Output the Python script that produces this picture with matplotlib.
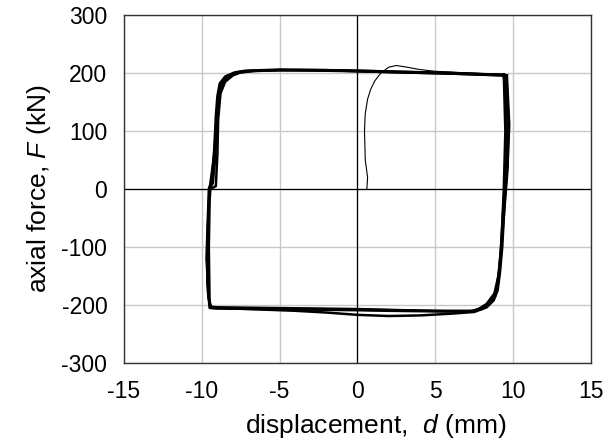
import matplotlib
matplotlib.use('Agg')
import matplotlib.pyplot as plt

plt.rcParams['font.family'] = ['Liberation Sans', 'DejaVu Sans']
plt.rcParams['mathtext.fontset'] = 'custom'
plt.rcParams['mathtext.rm'] = 'Liberation Sans'
plt.rcParams['mathtext.it'] = 'Liberation Sans:italic'
plt.rcParams['axes.unicode_minus'] = False

# initial loading branch (thin line)
init_d = [0.60, 0.65, 0.50, 0.45, 0.50, 0.65, 0.85, 1.10, 1.50, 2.00, 2.50, 3.20, 4.00, 5.00, 6.50, 8.00, 9.40]
init_F = [0, 20, 50, 100, 130, 155, 172, 186, 200, 210, 213, 210, 206, 203, 201, 199, 197]

# cyclic loops (displacement mm, force kN)
c1_d = [9.40, 9.50, 9.40, 9.30, 9.20, 9.05, 8.80, 8.30, 7.50, 6.00, 4.00, 2.00, 0.00, -2.00, -4.00, -6.00,
        -8.00, -9.30, -9.50, -9.55, -9.50, -9.45, -9.10, -9.00, -8.95, -8.80, -8.50, -8.00, -7.50, -6.50,
        -5.00, -3.00, 0.00, 3.00, 6.00, 8.00, 9.40]
c1_F = [197, 100, 0, -60, -110, -150, -180, -198, -212, -215, -218, -219, -217, -213, -210, -208,
        -206, -205, -200, -100, -20, 0, 5, 60, 120, 165, 185, 196, 201, 204,
        205, 205, 204, 202, 200, 198, 197]

c2_d = [9.40, 9.55, 9.60, 9.45, 9.35, 9.25, 9.10, 8.95, 8.70, 8.20, 7.40, 5.00, 2.00, 0.00, -3.00, -6.00,
        -9.00, -9.45, -9.60, -9.65, -9.55, -9.50, -9.30, -9.15, -9.05, -8.95, -8.75, -8.40, -7.80, -7.00,
        -5.00, -2.00, 0.00, 3.00, 6.00, 9.30, 9.55]
c2_F = [196, 150, 60, 0, -40, -90, -140, -170, -190, -203, -210, -210, -209, -208, -207, -206,
        -205, -204, -180, -100, -30, 0, 10, 50, 110, 150, 178, 192, 200, 203,
        205, 204, 203, 201, 199, 196, 195]

c3_d = [9.55, 9.70, 9.65, 9.50, 9.40, 9.30, 9.15, 9.00, 8.75, 8.30, 7.60, 6.00, 3.00, 0.00, -3.00, -6.00,
        -9.00, -9.40, -9.55, -9.70, -9.60, -9.55, -9.35, -9.20, -9.10, -9.00, -8.85, -8.50, -7.90, -7.20,
        -5.00, -2.00, 0.00, 3.00, 6.00, 9.40, 9.60]
c3_F = [195, 120, 40, 0, -50, -100, -145, -175, -192, -204, -211, -211, -209, -207, -206, -205,
        -204, -203, -190, -120, -40, 0, 15, 70, 125, 160, 182, 194, 201, 204,
        206, 205, 204, 202, 200, 197, 196]

c4_d = [9.60, 9.75, 9.60, 9.45, 9.30, 9.20, 9.05, 8.85, 8.50, 8.00, 7.20, 5.00, 2.00, 0.00, -3.00, -6.00,
        -9.10, -9.50, -9.65, -9.60, -9.50, -9.40, -9.20, -9.10, -9.00, -8.90, -8.70, -8.30, -7.60, -6.80,
        -5.00, -2.00, 0.00, 3.00, 6.00, 9.30, 9.50]
c4_F = [196, 110, 20, -30, -80, -120, -160, -185, -198, -207, -211, -211, -210, -209, -208, -207,
        -206, -205, -160, -60, 0, 20, 60, 100, 140, 165, 184, 195, 202, 204,
        205, 205, 203, 201, 199, 196, 195]

loops = [(c1_d, c1_F), (c2_d, c2_F), (c3_d, c3_F), (c4_d, c4_F)]

fig = plt.figure(figsize=(6.06, 4.41), dpi=100)
ax = fig.add_axes([0.2046, 0.1769, 0.7706, 0.789])

ax.plot(init_d, init_F, color='black', lw=0.8)
for d, F in loops:
    ax.plot(d, F, color='black', lw=1.8)

ax.set_xlim(-15, 15)
ax.set_ylim(-300, 300)
ax.set_xticks([-15, -10, -5, 0, 5, 10, 15])
ax.set_yticks([-300, -200, -100, 0, 100, 200, 300])
ax.grid(True, color='#c8c8c8', lw=1.0)
ax.set_axisbelow(True)
ax.axhline(0, color='black', lw=0.9, zorder=1.5)
ax.axvline(0, color='black', lw=0.9, zorder=1.5)
for s in ax.spines.values():
    s.set_color('#333333')
    s.set_linewidth(1.0)
ax.tick_params(length=0, labelsize=16.5, pad=12)

ax.set_xlabel('displacement,  $\\mathit{d}$ (mm)', fontsize=19)
ax.xaxis.set_label_coords(0.54, -0.14)
ax.set_ylabel('axial force, $\\mathit{F}$ (kN)', fontsize=19, labelpad=6)

fig.savefig('out.png', dpi=100)
